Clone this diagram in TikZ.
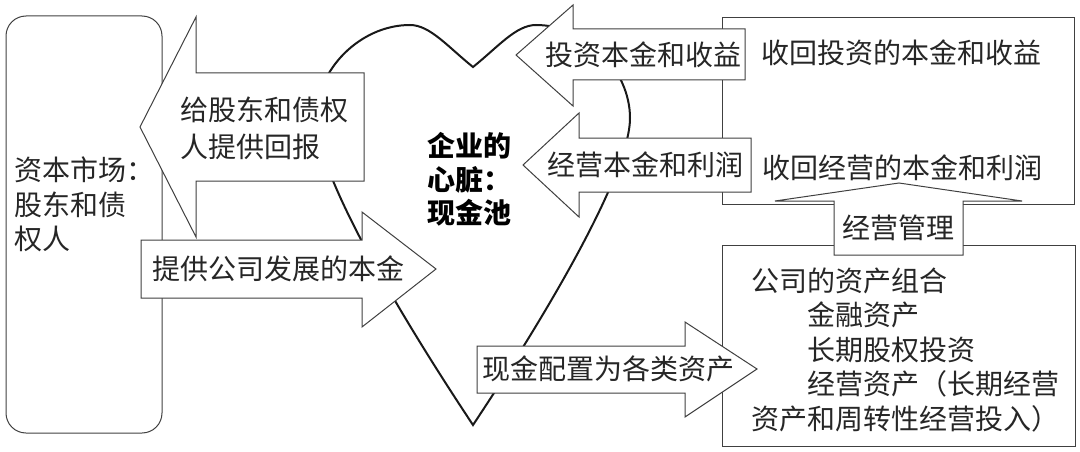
\documentclass[tikz,border=0pt]{standalone}
\usepackage{fontspec}
\setmainfont{Noto Sans CJK SC}

\begin{document}
\begin{tikzpicture}[x=1pt,y=-1pt]
	 \tikzstyle{box}=[draw=black!75,line width=1pt,inner sep=0pt]
	 \tikzstyle{block arrow}=[draw=black!75,fill=white,line width=1pt,line join=miter]
	 \tikzstyle{heart line}=[draw=black!90,line width=2pt,line join=miter]
	 \tikzstyle{txt}=[inner sep=0pt,anchor=west,align=left,text=black!85,font=\fontsize{28}{34.5}\selectfont]
	 \tikzstyle{bold txt}=[txt,text=black,font=\fontsize{28}{33.5}\selectfont\bfseries]

	 \useasboundingbox (0,0) rectangle (1080,452);

	 % boxes
	 \node[box,rounded corners=20pt,minimum width=156pt,minimum height=417pt] (market) at (84,224.5) {};
	 \node[box,minimum width=352pt,minimum height=186pt] (back) at (898,111) {};
	 \node[box,minimum width=353pt,minimum height=201pt] (assetbox) at (898.5,345.5) {};

	 % heart
	 \draw[heart line] (473,67) .. controls (448,47) and (430,25) .. (410,25)
		.. controls (360,25) and (316,70) .. (316,118)
		.. controls (316,170) and (390,300) .. (473,425)
		.. controls (556,300) and (630,170) .. (630,118)
		.. controls (630,70) and (586,25) .. (536,25)
		.. controls (516,25) and (498,47) .. (473,67) -- cycle;

	 % block arrows
	 \draw[block arrow] (364,73) -- (196,73) -- (196,17) -- (140,127) -- (196,237) -- (196,181) -- (364,181) -- cycle;
	 \draw[block arrow] (141,240) -- (362,240) -- (362,212) -- (436,269) -- (362,327) -- (362,298) -- (141,298) -- cycle;
	 \draw[block arrow] (745,29) -- (573,29) -- (573,5) -- (516,55) -- (573,106) -- (573,80) -- (745,80) -- cycle;
	 \draw[block arrow] (751,138) -- (579,138) -- (579,113) -- (523,165) -- (579,217) -- (579,192) -- (751,192) -- cycle;
	 \draw[block arrow] (834,255) -- (834,201) -- (775,201) -- (899,183) -- (1022,201) -- (963,201) -- (963,255) -- cycle;
	 \draw[block arrow] (477,346) -- (685,346) -- (685,322) -- (757,369) -- (685,417) -- (685,393) -- (477,393) -- cycle;

	 % texts
	 \node[txt] (markettxt) at (14,204.5) {资本市场：\\股东和债\\权人};
	 \node[bold txt] (pool) at (427,179.5) {企业的\\心脏：\\现金池};
	 \node[txt,font=\fontsize{28}{37}\selectfont] (payback) at (180,128.5) {给股东和债权\\人提供回报};
	 \node[txt] (fund) at (152,269) {提供公司发展的本金};
	 \node[txt] (invret) at (545,55) {投资本金和收益};
	 \node[txt] (opret) at (547,165) {经营本金和利润};
	 \node[txt] (alloc) at (482,369) {现金配置为各类资产};
	 \node[txt,anchor=center] (mgmt) at (898,228) {经营管理};
	 \node[txt] (invback) at (761,53) {收回投资的本金和收益};
	 \node[txt] (opback) at (762,168) {收回经营的本金和利润};
	 \node[txt] (assets) at (751,350) {公司的资产组合\\\hspace*{2em}金融资产\\\hspace*{2em}长期股权投资\\\hspace*{2em}经营资产（长期经营\\资产和周转性经营投入）};
\end{tikzpicture}
\end{document}
